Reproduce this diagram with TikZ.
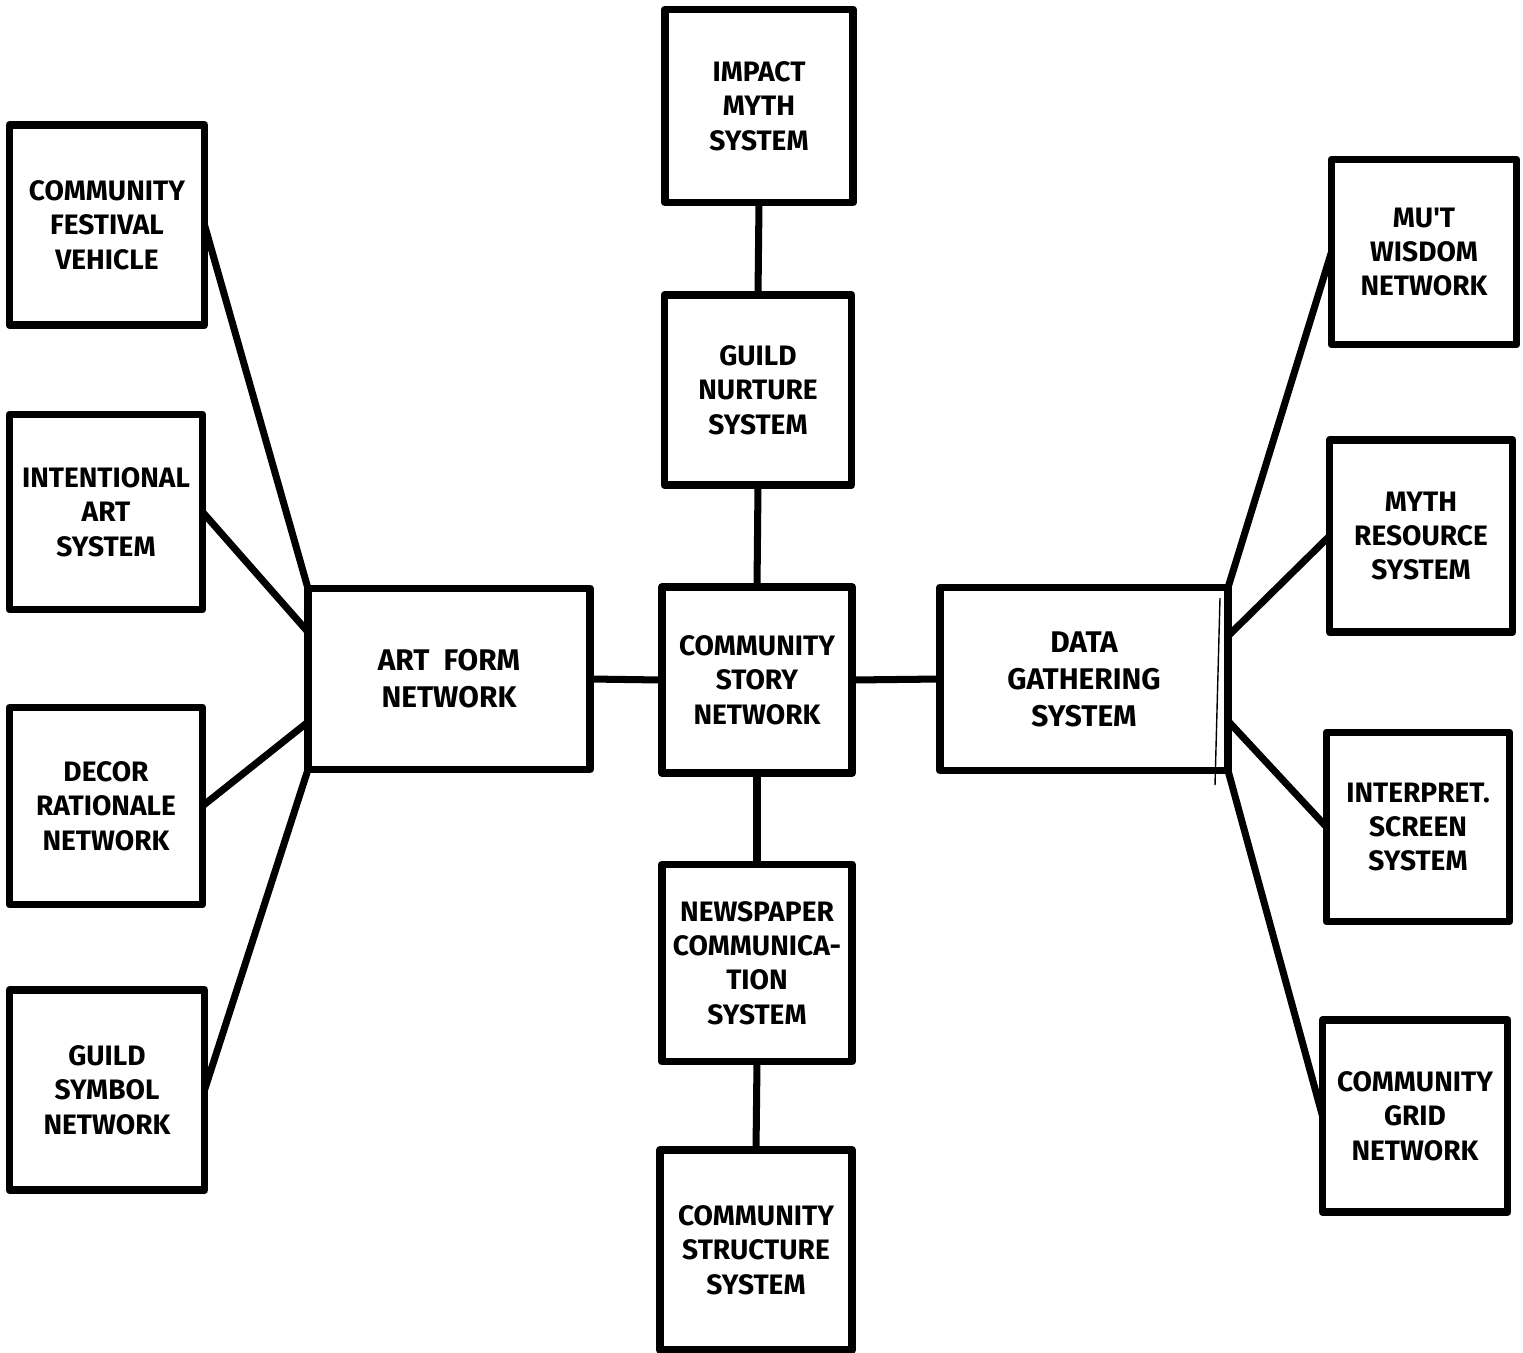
\documentclass[tikz,border=0pt]{standalone}
\usepackage{fontspec}
\setmainfont{Fira Sans}
\usetikzlibrary{calc}
\begin{document}
\begin{tikzpicture}[x=0.02cm,y=-0.02cm,
  box/.style={draw=black,line width=4.5pt,line join=round,rectangle,align=center,
    font=\fontsize{16}{19.5}\selectfont\bfseries,inner sep=2pt,outer sep=0pt},
  conn/.style={draw=black,line width=4pt,line cap=round}]
\useasboundingbox (0,0) rectangle (1523,1352);
% left column
\node[box,minimum width=195*0.02cm,minimum height=200*0.02cm] (cfv) at (107,225) {COMMUNITY\\FESTIVAL\\VEHICLE};
\node[box,minimum width=193*0.02cm,minimum height=195*0.02cm] (ias) at (106,512) {INTENTIONAL\\ART\\SYSTEM};
\node[box,minimum width=193*0.02cm,minimum height=197*0.02cm] (drn) at (106,806) {DECOR\\RATIONALE\\NETWORK};
\node[box,minimum width=195*0.02cm,minimum height=200*0.02cm] (gsn) at (107,1090) {GUILD\\SYMBOL\\NETWORK};
% art form
\node[box,minimum width=282*0.02cm,minimum height=181*0.02cm,font=\fontsize{17}{21}\selectfont\bfseries] (af) at (449,679) {ART\ \ FORM\\NETWORK};
% center column
\node[box,minimum width=188*0.02cm,minimum height=193*0.02cm] (imp) at (759,106) {IMPACT\\MYTH\\SYSTEM};
\node[box,minimum width=187*0.02cm,minimum height=190*0.02cm] (gns) at (758,390) {GUILD\\NURTURE\\SYSTEM};
\node[box,minimum width=190*0.02cm,minimum height=186*0.02cm] (csn) at (757,680) {COMMUNITY\\STORY\\NETWORK};
\node[box,minimum width=190*0.02cm,minimum height=197*0.02cm] (ncs) at (757,963) {NEWSPAPER\\COMMUNICA-\\TION\\SYSTEM};
\node[box,minimum width=192*0.02cm,minimum height=200*0.02cm] (css) at (756,1250) {COMMUNITY\\STRUCTURE\\SYSTEM};
% data gathering
\node[box,minimum width=288*0.02cm,minimum height=183*0.02cm,font=\fontsize{17}{21}\selectfont\bfseries] (dgs) at (1084,679) {DATA\\GATHERING\\SYSTEM};
% right column
\node[box,minimum width=185*0.02cm,minimum height=185*0.02cm] (mwn) at (1424,252) {MU\textquotesingle T\\WISDOM\\NETWORK};
\node[box,minimum width=183*0.02cm,minimum height=192*0.02cm] (mrs) at (1421,536) {MYTH\\RESOURCE\\SYSTEM};
\node[box,minimum width=183*0.02cm,minimum height=189*0.02cm] (iss) at (1418,827) {INTERPRET.\\SCREEN\\SYSTEM};
\node[box,minimum width=185*0.02cm,minimum height=192*0.02cm] (cgn) at (1415,1116) {COMMUNITY\\GRID\\NETWORK};
% thin inner stroke on data gathering box
\coordinate (dgt) at (1220,598);
\coordinate (dgb) at (1215,785);
\draw[line width=0.8pt] (dgt) -- (dgb);
% connectors left fan
\draw[conn] (cfv.east) -- (af.north west);
\draw[conn] (ias.east) -- ([yshift=0.94cm]af.west);
\draw[conn] (drn.east) -- ([yshift=-0.86cm]af.west);
\draw[conn] (gsn.east) -- (af.south west);
% horizontal
\draw[conn] (af.east) -- (csn.west);
\draw[conn] (csn.east) -- (dgs.west);
% vertical
\draw[conn] (imp.south) -- (gns.north);
\draw[conn] (gns.south) -- (csn.north);
\draw[conn] (csn.south) -- (ncs.north);
\draw[conn] (ncs.south) -- (css.north);
% right fan
\draw[conn] (dgs.north east) -- (mwn.west);
\draw[conn] ([yshift=0.86cm]dgs.east) -- (mrs.west);
\draw[conn] ([yshift=-0.84cm]dgs.east) -- (iss.west);
\draw[conn] (dgs.south east) -- (cgn.west);
\end{tikzpicture}
\end{document}
